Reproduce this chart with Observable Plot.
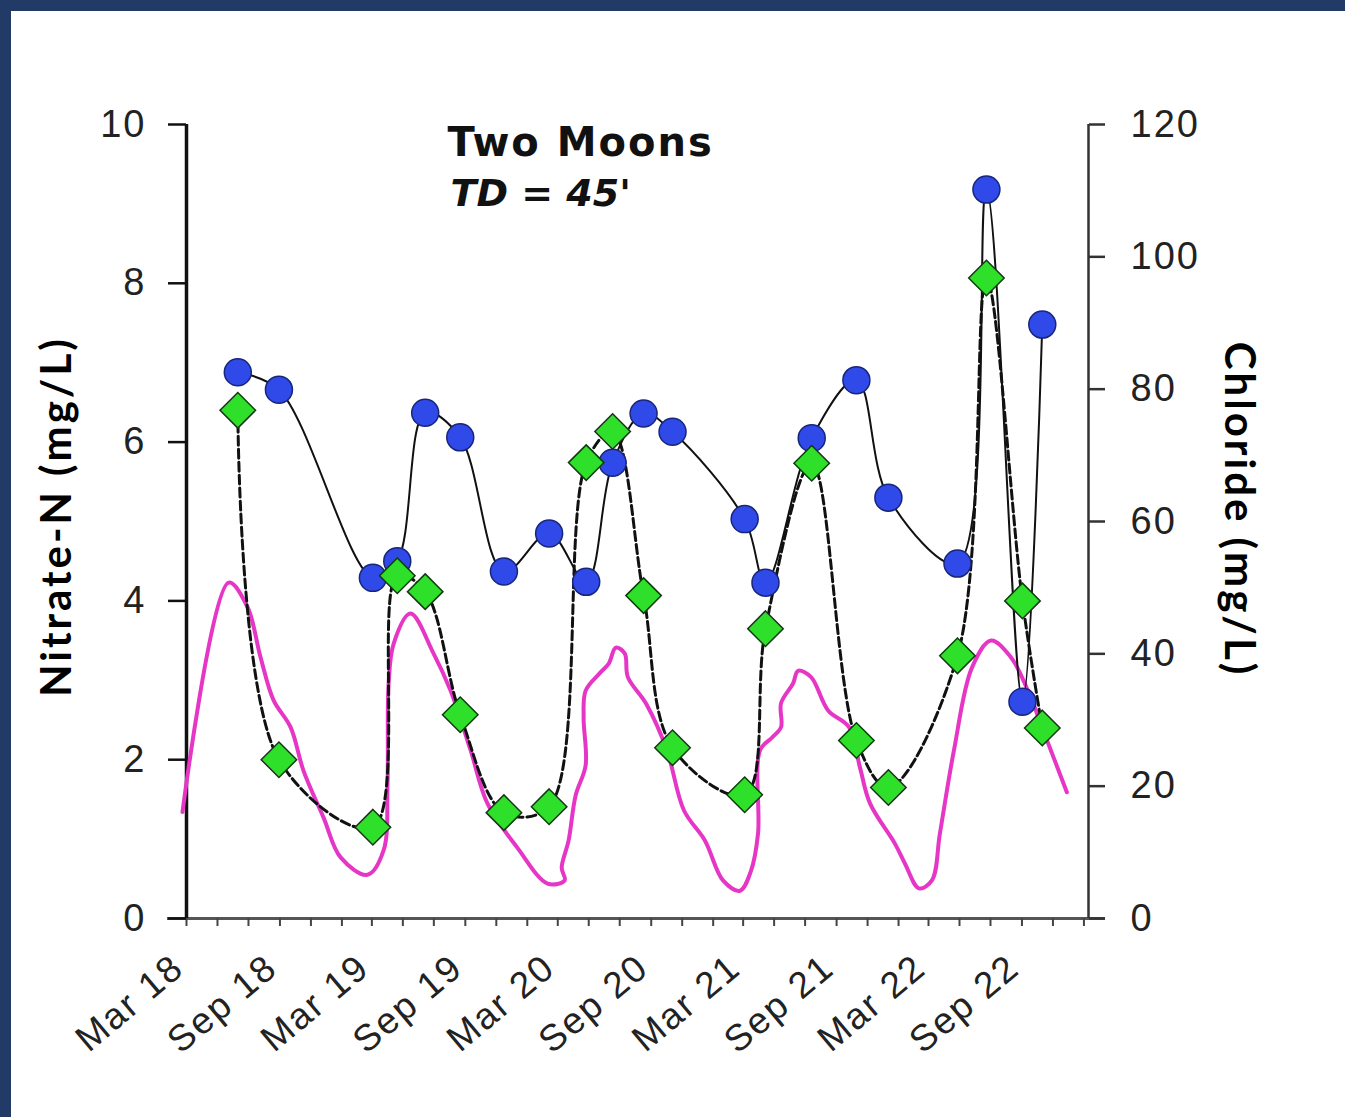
<!DOCTYPE html>
<html><head><meta charset="utf-8">
<script src="https://cdn.jsdelivr.net/npm/d3@7"></script>
<script src="https://cdn.jsdelivr.net/npm/@observablehq/plot@0.6"></script>
<style>
html,body{margin:0;padding:0;background:#213a66;width:1345px;height:1117px;overflow:hidden;}
#frame{position:absolute;left:11px;top:11px;width:1334px;height:1106px;background:#fff;overflow:hidden;}
#chart{position:absolute;left:0;top:0;}
</style></head><body><div id="frame"><div id="chart"></div></div>
<script>
// Sampling dates (shared by both sampled series)
const sampleDates = ["2018-06-10","2018-08-30","2019-03-03","2019-04-20","2019-06-14","2019-08-22","2019-11-16","2020-02-13","2020-04-26","2020-06-17","2020-08-17","2020-10-13","2021-03-04","2021-04-14","2021-07-14","2021-10-10","2021-12-12","2022-04-27","2022-06-23","2022-09-02","2022-10-11"];
// Blue circles, left axis (mg/L)
const nitrate = [6.88,6.66,4.29,4.50,6.37,6.06,4.37,4.85,4.24,5.74,6.36,6.13,5.03,4.23,6.05,6.78,5.30,4.47,9.18,2.73,7.48];
// Green diamonds, right axis (mg/L)
const chloride = [76.8,24.0,13.8,51.8,49.4,30.8,16.0,16.9,68.9,73.6,48.8,25.8,18.7,43.8,68.8,26.9,19.8,39.7,96.8,48.0,28.8];
// Hand-drawn magenta trace (decimal year, left-axis units)
const traceYears = [2018.140,2018.389,2018.491,2018.561,2018.631,2018.723,2018.793,2018.901,2018.993,2019.138,2019.225,2019.246,2019.252,2019.279,2019.370,2019.494,2019.586,2019.694,2019.785,2019.947,2020.109,2020.201,2020.185,2020.222,2020.260,2020.314,2020.303,2020.314,2020.390,2020.438,2020.476,2020.524,2020.541,2020.638,2020.751,2020.843,2020.956,2021.053,2021.145,2021.204,2021.242,2021.253,2021.318,2021.366,2021.366,2021.431,2021.458,2021.528,2021.620,2021.733,2021.792,2021.846,2021.981,2022.035,2022.110,2022.180,2022.223,2022.299,2022.396,2022.499,2022.606,2022.698,2022.795,2022.908];
const traceValues = [1.34,4.23,3.92,3.29,2.75,2.41,1.86,1.27,0.77,0.55,0.86,1.70,2.96,3.46,3.84,3.34,2.87,2.12,1.45,0.89,0.44,0.48,0.64,0.98,1.55,1.93,2.53,2.87,3.09,3.21,3.41,3.34,3.04,2.71,2.12,1.36,0.98,0.48,0.35,0.60,1.07,2.12,2.28,2.41,2.71,2.96,3.12,3.04,2.62,2.41,1.90,1.45,0.94,0.69,0.38,0.48,1.07,2.12,3.16,3.50,3.29,2.87,2.28,1.59];
const leftTicks = [0,2,4,6,8,10];
const rightTicks = [0,20,40,60,80,100,120];
const titleLines = ["Two Moons","TD = 45'"];
const axisTitles = ["Nitrate-N (mg/L)","Chloride (mg/L)"];

const x0 = new Date(Date.UTC(2018,2,1)), x1 = new Date(Date.UTC(2023,0,10));
const toDate = y => { const yr = Math.floor(y); const s = Date.UTC(yr,0,1), e = Date.UTC(yr+1,0,1); return new Date(s + (y-yr)*(e-s)); };
const samples = sampleDates.map((d,i) => ({date: new Date(d+"T00:00:00Z"), nitrate: nitrate[i], chloride: chloride[i]}));
const trace = traceYears.map((y,i) => ({date: toDate(y), value: traceValues[i]}));
const clToY = c => c/12;
const minorTicks = d3.utcMonth.every(2).range(x0, x1);
const majorTicks = minorTicks.filter(d => d.getUTCMonth() === 2 || d.getUTCMonth() === 8);

const chart = Plot.plot({
  width: 1334, height: 1106,
  marginLeft: 175, marginRight: 257, marginTop: 113, marginBottom: 199,
  x: {type: "utc", domain: [x0, x1]},
  y: {domain: [0, 10]},
  style: {fontFamily: "'Liberation Sans', Arial, sans-serif", color: "#222", background: "white", overflow: "visible"},
  marks: [
    Plot.ruleY([0], {stroke: "#555", strokeWidth: 3, insetLeft: -19, insetRight: -17}),
    Plot.axisX({ticks: minorTicks, tickSize: 8, tickFormat: () => "", label: null, stroke: "#444", strokeWidth: 2}),
    Plot.axisX({ticks: majorTicks, tickSize: 0, tickPadding: 44, tickRotate: -40, dx: -8, fontSize: 37, tickFormat: d3.utcFormat("%b %y"), label: null, fill: "#222"}),
    Plot.axisY({ticks: leftTicks, tickSize: 18, tickPadding: 22, fontSize: 38, label: null, strokeWidth: 2.5, stroke: "#111", fill: "#222"}),
    Plot.axisY(rightTicks, {anchor: "right", y: clToY, tickFormat: d => d, tickSize: 16, tickPadding: 26, fontSize: 38, label: null, strokeWidth: 2.5, stroke: "#333", fill: "#222"}),
    Plot.ruleX([x0], {stroke: "#111", strokeWidth: 3.5}),
    Plot.ruleX([x1], {stroke: "#333", strokeWidth: 2.5}),
    Plot.line(trace, {x: "date", y: "value", stroke: "#e636c6", strokeWidth: 4, curve: "catmull-rom"}),
    Plot.line(samples, {x: "date", y: "nitrate", stroke: "#111", strokeWidth: 2, curve: "catmull-rom"}),
    Plot.line(samples, {x: "date", y: d => clToY(d.chloride), stroke: "#111", strokeWidth: 3, strokeDasharray: "9,4", curve: "catmull-rom"}),
    Plot.dot(samples, {x: "date", y: "nitrate", r: 13.5, fill: "#2f4ae8", stroke: "#18267a", strokeWidth: 1.5}),
    Plot.dot(samples, {x: "date", y: d => clToY(d.chloride), symbol: "diamond2", r: 16, fill: "#2ee02a", stroke: "#143814", strokeWidth: 1.5}),
    Plot.text([titleLines[0]], {frameAnchor: "top-left", dx: 261, dy: 19, lineAnchor: "middle", textAnchor: "start", fontSize: 40, fontWeight: "bold", fontFamily: "'DejaVu Sans', sans-serif", fill: "#111"}),
    Plot.text([titleLines[1]], {frameAnchor: "top-left", dx: 264, dy: 69, lineAnchor: "middle", textAnchor: "start", fontSize: 38, fontWeight: "bold", fontStyle: "italic", fontFamily: "'DejaVu Sans', sans-serif", fill: "#111"}),
    Plot.text([axisTitles[0]], {frameAnchor: "left", dx: -129, dy: -5, rotate: -90, textAnchor: "middle", lineAnchor: "middle", fontSize: 42, fontWeight: "bold", fontFamily: "Lato, 'Open Sans', sans-serif", fill: "#000"}),
    Plot.text([axisTitles[1]], {frameAnchor: "right", dx: 150, dy: -12, rotate: 90, textAnchor: "middle", lineAnchor: "middle", fontSize: 42, fontWeight: "bold", fontFamily: "Lato, 'Open Sans', sans-serif", fill: "#000"})
  ]
});
// letter spacing tweaks to match the reference's wide lettering
d3.select(chart).selectAll("text").each(function() {
  const t = this.textContent;
  if (t === titleLines[0]) this.style.letterSpacing = "2px";
  else if (t === titleLines[1]) this.style.letterSpacing = "0px";
  else if (axisTitles.includes(t)) this.style.letterSpacing = "3px";
  else this.style.letterSpacing = "2px";
});
document.getElementById("chart").appendChild(chart);
</script>
</body></html>
